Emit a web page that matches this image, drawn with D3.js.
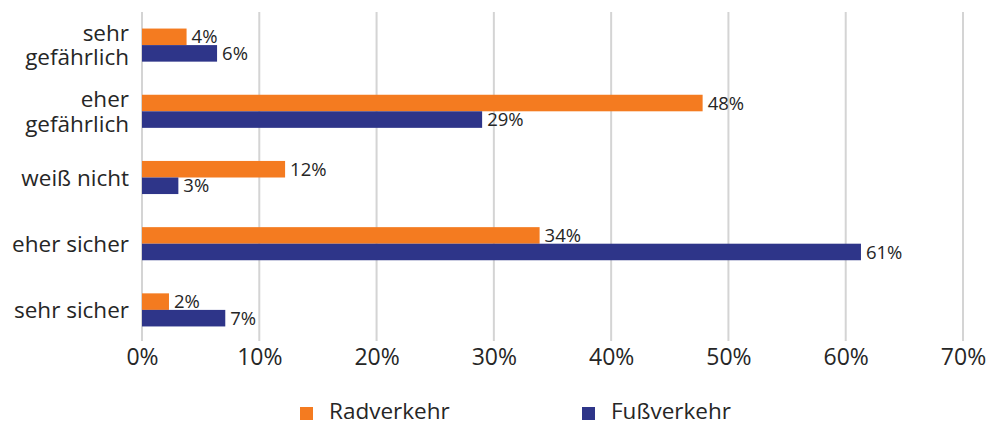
<!DOCTYPE html>
<html lang="de">
<head>
  <meta charset="UTF-8">
  <title>Sicherheit im Verkehr</title>
  <script src="https://d3js.org/d3.v7.min.js"></script>
  <style>
    body { margin: 0; background: #fff; }
    text { font-family: 'Open Sans', 'Noto Sans', sans-serif; fill: #262626; }
  </style>
</head>
<body>
  <div id="chart"></div>
  <script>
    const categories = [["sehr", "gefährlich"], ["eher", "gefährlich"], ["weiß nicht"], ["eher sicher"], ["sehr sicher"]];
    const series = ["Radverkehr", "Fußverkehr"];
    const radValues = [3.8, 47.8, 12.2, 33.9, 2.3];
    const fussValues = [6.4, 29.0, 3.1, 61.3, 7.1];
    const radLabels = ["4%", "48%", "12%", "34%", "2%"];
    const fussLabels = ["6%", "29%", "3%", "61%", "7%"];
    const xTicks = [0, 10, 20, 30, 40, 50, 60, 70];

    const width = 986, height = 426;
    const margin = {top: 12, right: 23, bottom: 83, left: 142};
    const color = d3.scaleOrdinal().domain(series).range(["#f47b20", "#2e3589"]);

    const svg = d3.select("#chart").append("svg")
      .attr("width", width).attr("height", height);

    const x = d3.scaleLinear().domain([0, 70])
      .range([margin.left, width - margin.right]);

    const catKeys = categories.map(c => c.join(" "));
    const y = d3.scaleBand().domain(catKeys)
      .range([margin.top, height - margin.bottom])
      .paddingInner(0.5).paddingOuter(0.25);
    const ySub = d3.scaleBand().domain(series).range([0, y.bandwidth()]);

    // grid
    svg.append("g")
      .selectAll("line")
      .data(xTicks)
      .join("line")
        .attr("x1", d => x(d)).attr("x2", d => x(d))
        .attr("y1", margin.top).attr("y2", height - margin.bottom - 2)
        .attr("stroke", "#d4d4d4").attr("stroke-width", 2);

    const rows = catKeys.map((k, i) => ({
      key: k,
      vals: [
        {s: series[0], v: radValues[i], label: radLabels[i]},
        {s: series[1], v: fussValues[i], label: fussLabels[i]}
      ]
    }));

    const g = svg.append("g").selectAll("g")
      .data(rows)
      .join("g")
        .attr("transform", d => `translate(0,${y(d.key)})`);

    g.selectAll("rect")
      .data(d => d.vals)
      .join("rect")
        .attr("x", x(0))
        .attr("y", d => ySub(d.s))
        .attr("width", d => x(d.v) - x(0))
        .attr("height", ySub.bandwidth())
        .attr("fill", d => color(d.s));

    g.selectAll("text.val")
      .data(d => d.vals)
      .join("text")
        .attr("class", "val")
        .attr("x", d => x(d.v) + 5)
        .attr("y", d => ySub(d.s) + ySub.bandwidth() / 2)
        .attr("dy", "0.36em")
        .attr("font-size", 18.5)
        .text(d => d.label);

    // category labels
    const catSize = 22.5, lh = 24.5;
    svg.append("g").selectAll("text")
      .data(categories)
      .join("text")
        .attr("text-anchor", "end")
        .attr("font-size", catSize)
        .attr("x", 129)
        .attr("y", (d, i) => y(catKeys[i]) + y.bandwidth() / 2)
        .each(function(d) {
          const t = d3.select(this);
          d.forEach((line, j) => {
            t.append("tspan")
              .attr("x", 129)
              .attr("dy", j === 0 ? ((0.36 * catSize) - (d.length - 1) * lh / 2) : lh)
              .text(line);
          });
        });

    // x axis labels
    svg.append("g")
      .attr("transform", `translate(0,${height - margin.bottom})`)
      .call(d3.axisBottom(x).tickValues(xTicks).tickSize(0).tickPadding(6).tickFormat(d => d + "%"))
      .call(g => g.select(".domain").remove())
      .call(g => g.selectAll("text").attr("font-size", 23).attr("fill", "#262626")
        .attr("font-family", "'Open Sans', 'Noto Sans', sans-serif"));

    // legend
    const legendX = [300, 582];
    const legend = svg.append("g").selectAll("g")
      .data(series)
      .join("g")
        .attr("transform", (d, i) => `translate(${legendX[i]},407)`);
    legend.append("rect")
      .attr("width", 13).attr("height", 13)
      .attr("fill", d => color(d));
    legend.append("text")
      .attr("x", 29).attr("y", 12)
      .attr("font-size", 22.5)
      .text(d => d);
  </script>
</body>
</html>
